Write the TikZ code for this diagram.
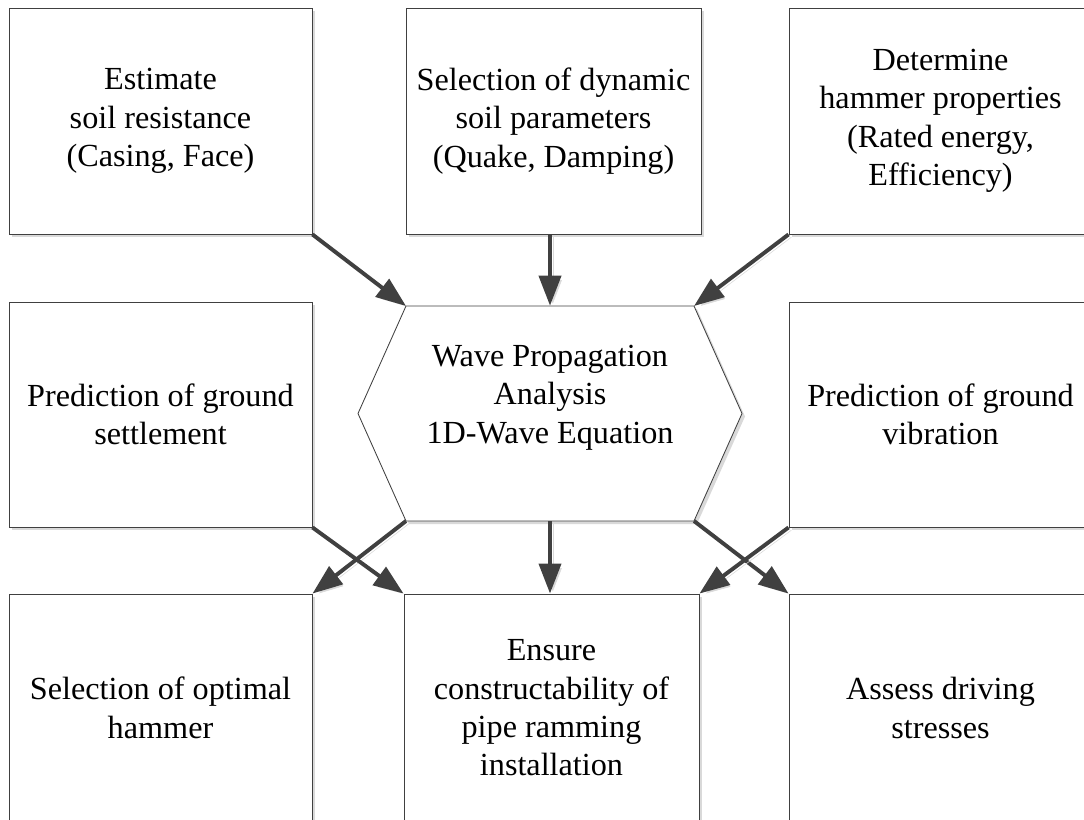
\documentclass[tikz,border=0pt]{standalone}
\usepackage{fontspec}
\setmainfont{Liberation Serif}
\usetikzlibrary{arrows.meta,shadows}
\definecolor{edgegray}{HTML}{404040}
\definecolor{shadowgray}{HTML}{D9D9D9}

\begin{document}
\begin{tikzpicture}[x=0.025cm,y=-0.025cm,
  box/.style={rectangle,draw=edgegray,line width=0.6pt,fill=white,align=center,
    font=\fontsize{22.9}{27.3}\selectfont,
    drop shadow={shadow xshift=0.08cm,shadow yshift=-0.08cm,fill=shadowgray,opacity=1}},
  wide/.style={minimum width=7.575cm},
  narrow/.style={minimum width=7.375cm},
  flow/.style={draw=edgegray,line width=2.8pt,-{Triangle[length=0.75cm,width=0.55cm]},
    preaction={draw=shadowgray,transform canvas={shift={(0.07cm,-0.07cm)}}}}]
\useasboundingbox (0,0) rectangle (1084,820);
\clip (0,0) rectangle (1084,820);

% top row
\node[box,wide,minimum height=5.65cm] (soil) at (160.5,121) {Estimate\\soil resistance\\(Casing, Face)};
\node[box,narrow,minimum height=5.65cm] (dyn) at (553.5,121) {Selection of dynamic\\soil parameters\\(Quake, Damping)};
\node[box,wide,minimum height=5.65cm] (hammer) at (940.5,121) {Determine\\hammer properties\\(Rated energy,\\Efficiency)};

% middle row
\node[box,wide,minimum height=5.625cm] (settle) at (160.5,414.5) {Prediction of ground\\settlement};
\node[box,wide,minimum height=5.625cm] (vibr) at (940.5,414.5) {Prediction of ground\\vibration};

% hexagon
\coordinate (hexnw) at (406,306);
\coordinate (hexne) at (694,306);
\coordinate (hexe) at (742,413.5);
\coordinate (hexse) at (694,521);
\coordinate (hexsw) at (406,521);
\coordinate (hexw) at (358,413.5);
\fill[shadowgray] ([shift={(3,3)}]hexnw) -- ([shift={(3,3)}]hexne) -- ([shift={(3,3)}]hexe)
  -- ([shift={(3,3)}]hexse) -- ([shift={(3,3)}]hexsw) -- ([shift={(3,3)}]hexw) -- cycle;
\draw[edgegray,line width=0.6pt,fill=white] (hexnw) -- (hexne) -- (hexe) -- (hexse) -- (hexsw) -- (hexw) -- cycle;
\node[minimum width=7.2cm,minimum height=5.375cm,align=center,
  font=\fontsize{22.9}{27.3}\selectfont] (wave) at (550,413.5) {Wave Propagation\\Analysis\\1D-Wave Equation\\\mbox{}};

% bottom row
\node[box,wide,minimum height=5.7cm] (optimal) at (160.5,708) {Selection of optimal\\hammer};
\node[box,narrow,minimum height=5.7cm] (ensure) at (551.5,708) {Ensure\\constructability of\\pipe ramming\\installation};
\node[box,wide,minimum height=5.7cm] (stress) at (940.5,708) {Assess driving\\stresses};

% arrows
\draw[flow] (soil.south east) -- (hexnw);
\draw[flow] (dyn.south -| wave.north) -- (wave.north);
\draw[flow] (hammer.south west) -- (hexne);
\draw[flow] (hexsw) -- (optimal.north east);
\draw[flow] (wave.south) -- (wave.south |- ensure.north);
\draw[flow] (hexse) -- (stress.north west);
\draw[flow] (settle.south east) -- (ensure.north west);
\draw[flow] (vibr.south west) -- (ensure.north east);
\end{tikzpicture}
\end{document}
